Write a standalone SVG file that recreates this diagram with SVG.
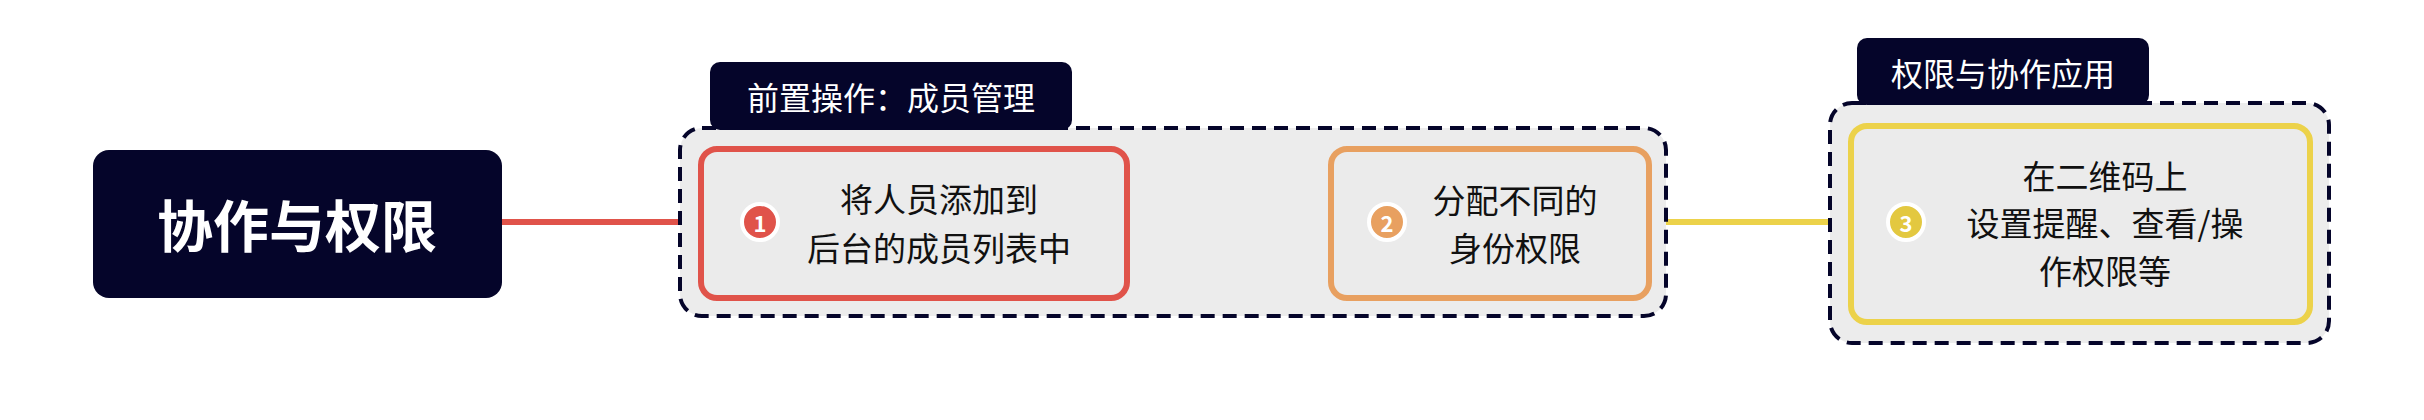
<svg xmlns="http://www.w3.org/2000/svg" width="2424" height="420" viewBox="0 0 2424 420">
<defs>
<style>
text{font-family:"Noto Sans CJK SC","Noto Sans",sans-serif;text-anchor:middle;dominant-baseline:central}
.grp{fill:#ececec;stroke:#05052a;stroke-width:4;stroke-dasharray:14 8}
.tab{fill:#05052a}
.tabt{fill:#fff;font-size:32px}
.node{fill:#ebebeb;stroke-width:6}
.t{fill:#111;font-size:33px}
.badge{stroke:#fff;stroke-width:4}
.bt{fill:#fff;font-size:22px;font-weight:bold}
</style>
<linearGradient id="g1" x1="0" x2="1"><stop offset="0" stop-color="#e0534a"/><stop offset="1" stop-color="#e8a060"/></linearGradient>
</defs>
<g id="connectors">
<line x1="501" y1="222" x2="701" y2="222" stroke="#e0534a" stroke-width="6"/>
<line x1="1127" y1="222" x2="1329" y2="222" stroke="url(#g1)" stroke-width="6"/>
<line x1="1649" y1="222" x2="1850" y2="222" stroke="#ecd24a" stroke-width="6"/>
</g>
<g id="root">
<rect x="93" y="150" width="409" height="148" rx="16" fill="#05052a"/>
<text x="297" y="222" fill="#fff" font-size="56" font-weight="bold">协作与权限</text>
</g>
<g id="group1">
<rect class="grp" x="680" y="128" width="986" height="188" rx="22"/>
<rect class="tab" x="710" y="62" width="362" height="68" rx="10"/>
<text class="tabt" x="891" y="96">前置操作：成员管理</text>
</g>
<g id="group2">
<rect class="grp" x="1830" y="103" width="499" height="240" rx="22"/>
<rect class="tab" x="1857" y="38" width="292" height="67" rx="10"/>
<text class="tabt" x="2003" y="72">权限与协作应用</text>
</g>
<g id="node1">
<rect class="node" x="701" y="149" width="426" height="149" rx="16" stroke="#e0534a"/>
<circle class="badge" cx="760" cy="222" r="18" fill="#e0534a"/>
<text class="bt" x="760" y="222">1</text>
<text class="t" x="939" y="198">将人员添加到</text>
<text class="t" x="939" y="247">后台的成员列表中</text>
</g>
<g id="node2">
<rect class="node" x="1331" y="149" width="318" height="149" rx="16" stroke="#e8a060"/>
<circle class="badge" cx="1387" cy="222" r="18" fill="#e8a060"/>
<text class="bt" x="1387" y="222">2</text>
<text class="t" x="1515" y="199">分配不同的</text>
<text class="t" x="1515" y="247">身份权限</text>
</g>
<g id="node3">
<rect class="node" x="1851" y="126" width="459" height="196" rx="16" stroke="#ecd24a"/>
<circle class="badge" cx="1906" cy="222" r="18" fill="#e3c840"/>
<text class="bt" x="1906" y="222">3</text>
<text class="t" x="2105" y="175">在二维码上</text>
<text class="t" x="2105" y="222">设置提醒、查看/操</text>
<text class="t" x="2105" y="270">作权限等</text>
</g>
</svg>
